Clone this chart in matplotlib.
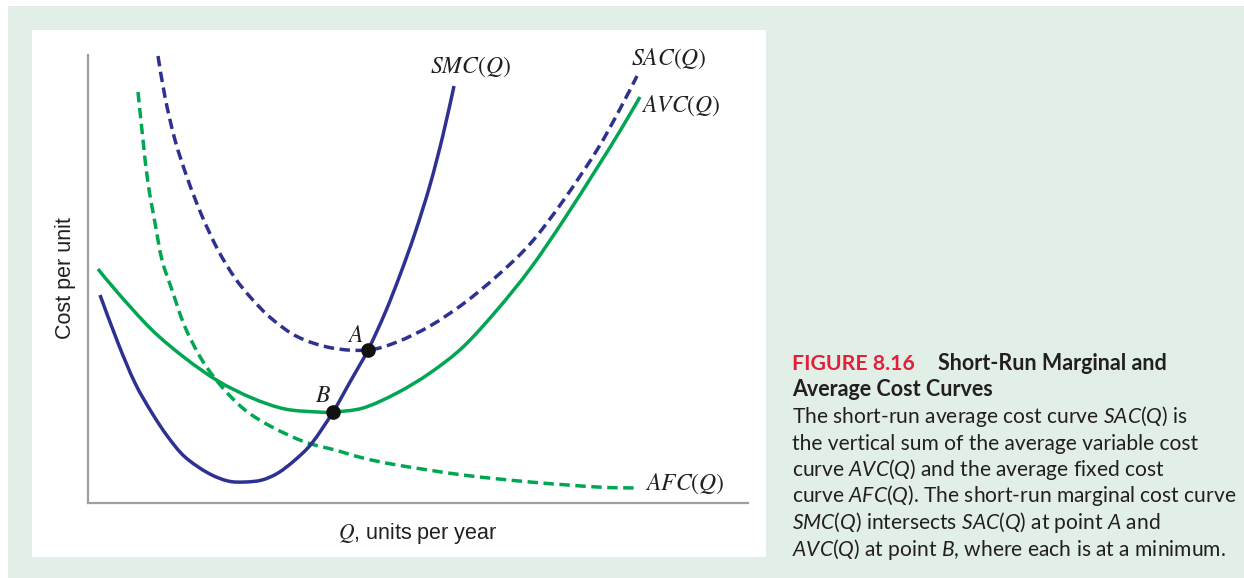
import matplotlib
matplotlib.use("Agg")
import matplotlib.pyplot as plt
import numpy as np
from matplotlib.patches import Rectangle, PathPatch
from matplotlib.path import Path

# ---------------- data ----------------
smc_q = [12, 30, 47, 64, 80, 97, 120, 140, 157, 174, 190, 207, 224, 245, 262, 280, 297, 312, 327, 342, 355, 366]
smc_c = [208, 160, 120, 90, 66, 46, 30, 22, 21, 23, 30, 43, 60, 91, 121, 153, 190, 228, 270, 318, 368, 417]

avc_q = [10, 30, 64, 97, 130, 164, 197, 230, 245, 275, 309, 342, 375, 409, 442, 475, 509, 532, 552]
avc_c = [234, 210, 173, 145, 122, 105, 94, 91, 91, 95, 110, 130, 156, 193, 234, 282, 335, 372, 406]

sac_q = [70, 77, 87, 100, 114, 130, 147, 164, 184, 210, 244, 280, 309, 342, 375, 409, 442, 475, 509, 532, 549]
sac_c = [447, 406, 363, 323, 287, 253, 225, 204, 184, 166, 155, 153, 161, 177, 199, 227, 259, 302, 353, 394, 427]

afc_q = [50, 55, 60, 67, 74, 84, 97, 114, 134, 157, 184, 217, 247, 275, 309, 375, 442, 509, 547]
afc_c = [411, 363, 320, 280, 243, 213, 176, 143, 116, 93, 76, 61, 53, 45, 38, 28, 21, 16, 15]

point_names = ["A", "B"]
point_q = [280, 245]
point_c = [153, 91]

curve_labels = [r"$SMC(Q)$", r"$SAC(Q)$", r"$AVC(Q)$", r"$AFC(Q)$"]
x_label = r"$Q$, units per year"
y_label = "Cost per unit"

caption_title_red = "FIGURE 8.16"
caption_title_1 = "Short-Run Marginal and"
caption_title_2 = "Average Cost Curves"
caption_body = [
    r"The short-run average cost curve $SAC(Q)$ is",
    r"the vertical sum of the average variable cost",
    r"curve $AVC(Q)$ and the average fixed cost",
    r"curve $AFC(Q)$. The short-run marginal cost curve",
    r"$SMC(Q)$ intersects $SAC(Q)$ at point $A$ and",
    r"$AVC(Q)$ at point $B$, where each is at a minimum.",
]

# ---------------- style ----------------
NAVY = "#2e3192"
GREEN = "#00a651"
AXIS = "#9d9fa2"
TXT = "#231f20"
RED = "#e2203a"
BG = "#e1efe6"

plt.rcParams["mathtext.fontset"] = "custom"
plt.rcParams["mathtext.rm"] = "Lato"
plt.rcParams["mathtext.it"] = "Lato:italic"
plt.rcParams["mathtext.bf"] = "Lato:bold"

W, H = 1244, 578
fig = plt.figure(figsize=(W / 100, H / 100), dpi=100, facecolor="white")

def fx(px):
    return px / W

def fy(py):
    return 1 - py / H

fig.patches.append(Rectangle((fx(8), 0), 1 - fx(8), fy(6), transform=fig.transFigure,
                             facecolor=BG, edgecolor="none", zorder=-3))
fig.patches.append(Rectangle((fx(32), fy(557)), fx(766) - fx(32), fy(30) - fy(557),
                             transform=fig.transFigure, facecolor="white", edgecolor="none", zorder=-2))

ax = fig.add_axes([fx(88), fy(503), fx(748) - fx(88), fy(55) - fy(503)])
ax.set_facecolor("none")
ax.set_xlim(0, 660)
ax.set_ylim(0, 448)
for s in ["top", "right"]:
    ax.spines[s].set_visible(False)
for s in ["left", "bottom"]:
    ax.spines[s].set_color(AXIS)
    ax.spines[s].set_linewidth(1.6)
ax.set_xticks([])
ax.set_yticks([])


def smooth_path(xs, ys):
    """Catmull-Rom curve through the read points, drawn as cubic Bezier segments."""
    p = np.column_stack([xs, ys]).astype(float)
    ext = np.vstack([p[0], p, p[-1]])
    verts = [p[0]]
    codes = [Path.MOVETO]
    for i in range(len(p) - 1):
        p0, p1, p2, p3 = ext[i], ext[i + 1], ext[i + 2], ext[i + 3]
        c1 = p1 + (p2 - p0) / 6.0
        c2 = p2 - (p3 - p1) / 6.0
        verts += [c1, c2, p2]
        codes += [Path.CURVE4] * 3
    return Path(verts, codes)


lw = 2.5
dash = (0, (3.0, 1.6))
ax.add_patch(PathPatch(smooth_path(afc_q, afc_c), fill=False, edgecolor=GREEN, lw=lw,
                       linestyle=dash, clip_on=False, capstyle="butt"))
ax.add_patch(PathPatch(smooth_path(sac_q, sac_c), fill=False, edgecolor=NAVY, lw=lw,
                       linestyle=dash, clip_on=False, capstyle="butt"))
ax.add_patch(PathPatch(smooth_path(avc_q, avc_c), fill=False, edgecolor=GREEN, lw=lw,
                       clip_on=False, capstyle="butt"))
ax.add_patch(PathPatch(smooth_path(smc_q, smc_c), fill=False, edgecolor=NAVY, lw=lw,
                       clip_on=False, capstyle="butt"))
ax.plot(point_q, point_c, "o", color="#111111", ms=9.5, clip_on=False, zorder=5)

lab_kw = dict(fontsize=17, color=TXT, math_fontfamily="stix", ha="center", va="center")
ax.text(382, 436, curve_labels[0], **lab_kw)
ax.text(581, 444, curve_labels[1], **lab_kw)
ax.text(593, 397, curve_labels[2], **lab_kw)
ax.text(597, 19, curve_labels[3], **lab_kw)
ax.text(267, 168, "$" + point_names[0] + "$", **lab_kw)
ax.text(235, 108, "$" + point_names[1] + "$", **lab_kw)

fig.text(fx(418), fy(533), x_label, fontsize=15.5, family="Liberation Sans", color=TXT,
         math_fontfamily="stix", ha="center", va="center")
fig.text(fx(65), fy(278), y_label, fontsize=15.5, family="Liberation Sans", color=TXT,
         rotation=90, ha="center", va="center")

# caption
cap_kw = dict(family="Lato", fontsize=15.1, color=TXT, va="baseline", ha="left", math_fontfamily="custom")
fig.text(fx(792), fy(370), caption_title_red, fontweight="bold", **{**cap_kw, "color": RED, "fontsize": 15.3})
fig.text(fx(938), fy(370), caption_title_1, fontweight="bold", **{**cap_kw, "fontsize": 15.5})
fig.text(fx(792), fy(396.5), caption_title_2, fontweight="bold", **{**cap_kw, "fontsize": 15.5})
for i, line in enumerate(caption_body):
    fig.text(fx(792), fy(423 + 26.5 * i), line, **cap_kw)

fig.savefig("out.png", dpi=100, facecolor="white")
